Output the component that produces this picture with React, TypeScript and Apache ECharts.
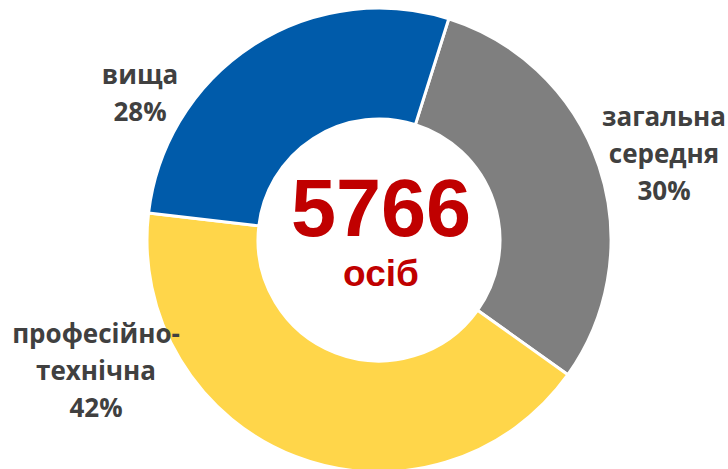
import React, { useEffect, useRef } from "react";
import * as echarts from "echarts";

const categories = ["загальна\nсередня", "професійно-\nтехнічна", "вища"];
const shares = [30, 42, 28];
const colors = ["#7F7F7F", "#FFD64A", "#005BAA"];
const totalValue = "5766";
const totalUnit = "осіб";

const labelPos = [
  { x: 664, y: 153 },
  { x: 96, y: 370 },
  { x: 140, y: 92 },
];

export default function App() {
  const ref = useRef<HTMLDivElement>(null);
  useEffect(() => {
    const chart = echarts.init(ref.current!, null, { renderer: "svg" });
    chart.setOption({
      animation: false,
      backgroundColor: "#ffffff",
      series: [
        {
          type: "pie",
          center: [379, 240],
          radius: [121, 232],
          startAngle: 72.5,
          clockwise: true,
          itemStyle: { borderColor: "#ffffff", borderWidth: 3 },
          label: {
            show: true,
            position: "outside",
            formatter: "{b}\n{c}%",
            fontFamily: "Open Sans",
            fontWeight: "bold",
            fontSize: 26,
            lineHeight: 37,
            color: "#404040",
            align: "center",
            overflow: "none",
            alignTo: "none",
          },
          labelLine: { show: false },
          labelLayout: (params: any) => ({
            x: labelPos[params.dataIndex].x,
            y: labelPos[params.dataIndex].y,
            align: "center",
            verticalAlign: "middle",
          }),
          data: categories.map((c, i) => ({
            name: c,
            value: shares[i],
            itemStyle: { color: colors[i] },
          })),
        },
      ],
      graphic: [
        {
          type: "text",
          x: 381,
          y: 208,
          style: {
            text: totalValue,
            fontFamily: "Liberation Sans",
            fontWeight: "bold",
            fontSize: 81,
            lineHeight: 66,
            fill: "#C00000",
            align: "center",
            verticalAlign: "middle",
          },
        },
        {
          type: "text",
          x: 381,
          y: 273,
          style: {
            text: totalUnit,
            fontFamily: "Liberation Sans",
            fontWeight: "bold",
            fontSize: 37,
            lineHeight: 32,
            fill: "#C00000",
            align: "center",
            verticalAlign: "middle",
          },
        },
      ],
    });
    return () => chart.dispose();
  }, []);
  return <div ref={ref} style={{ width: 728, height: 469, position: "absolute", left: 0, top: 0 }} />;
}
